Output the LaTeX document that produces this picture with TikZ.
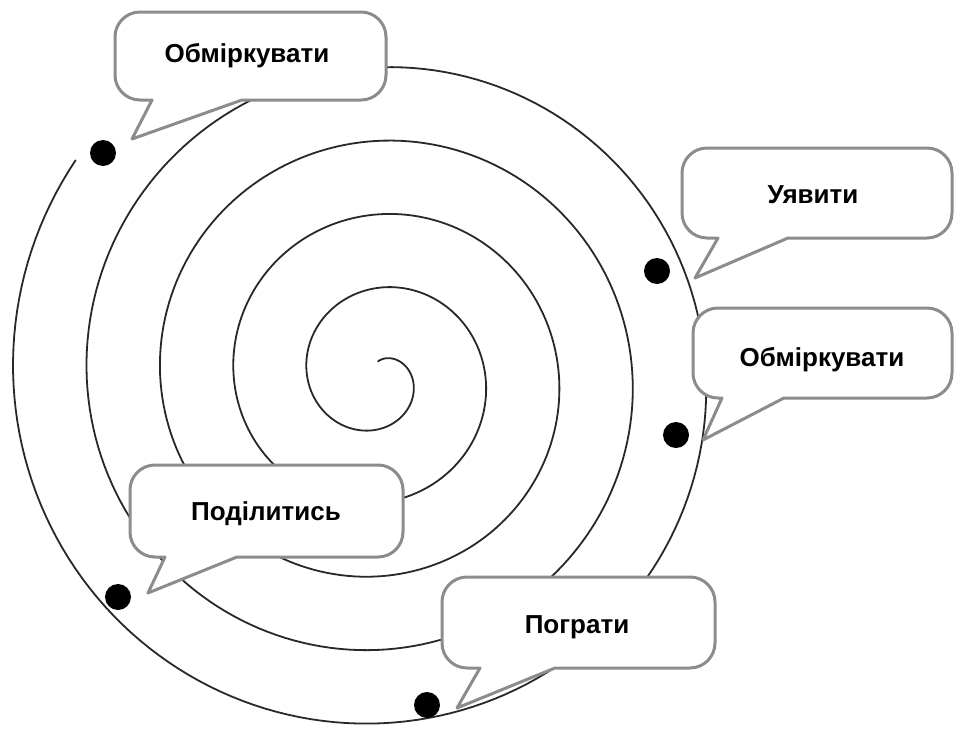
\documentclass[tikz,border=0pt]{standalone}
\usepackage{fontspec}
\setmainfont{Liberation Sans}
\definecolor{bubblegray}{RGB}{140,140,140}
\definecolor{spiralgray}{RGB}{40,40,40}
\tikzset{
  bubbleline/.style={draw=bubblegray, line width=3pt, fill=white, line join=round},
  spiralline/.style={draw=spiralgray, line width=1.8pt, line cap=round},
  bubbletext/.style={font=\bfseries\fontsize{26}{30}\selectfont, text=black, anchor=base, inner sep=0pt},
  dotmark/.style={circle, fill=black, draw=none, inner sep=0pt, minimum size=26pt}
}
% #1 left, #2 top, #3 right, #4 bottom, #5 tail base left x, #6 tail base right x, #7 tip x, #8 tip y
\newcommand{\spbubble}[8]{%
  \draw[bubbleline] (#5,#4) -- (#7,#8) -- (#6,#4) -- ({#3-25},#4) arc (90:0:25)
    -- (#3,{#2+25}) arc (0:-90:25) -- ({#1+25},#2) arc (-90:-180:25)
    -- (#1,{#4-25}) arc (180:90:25) -- cycle;}
\begin{document}
\begin{tikzpicture}[x=1pt, y=-1pt]
  \useasboundingbox (0,0) rectangle (954,731);
  % spiral
  \draw[spiralline] plot[domain=-1.5708:28.9, samples=900, variable=\t]
    ({378+(34+11.7*\t)*cos(\t r)}, {377+(34+11.7*\t)*sin(\t r)});
  % bubbles
  \spbubble{115}{12}{386}{100}{152}{242}{132}{139}
  \spbubble{682}{148}{952}{238}{718}{788}{695}{278}
  \spbubble{693}{308}{952}{398}{722}{784}{703}{440}
  \spbubble{130}{465}{403}{557}{165}{237}{148}{593}
  \spbubble{442}{577}{715}{668}{480}{555}{457}{708}
  % texts
  \node[bubbletext] (t1) at (247,62) {Обміркувати};
  \node[bubbletext] (t2) at (813,203) {Уявити};
  \node[bubbletext] (t3) at (822,366) {Обміркувати};
  \node[bubbletext] (t4) at (266,520) {Поділитись};
  \node[bubbletext] (t5) at (577,633) {Пограти};
  % dots
  \node[dotmark] (d1) at (103,153) {};
  \node[dotmark] (d2) at (657,271) {};
  \node[dotmark] (d3) at (676,435) {};
  \node[dotmark] (d4) at (118,597) {};
  \node[dotmark] (d5) at (427,705) {};
\end{tikzpicture}
\end{document}
